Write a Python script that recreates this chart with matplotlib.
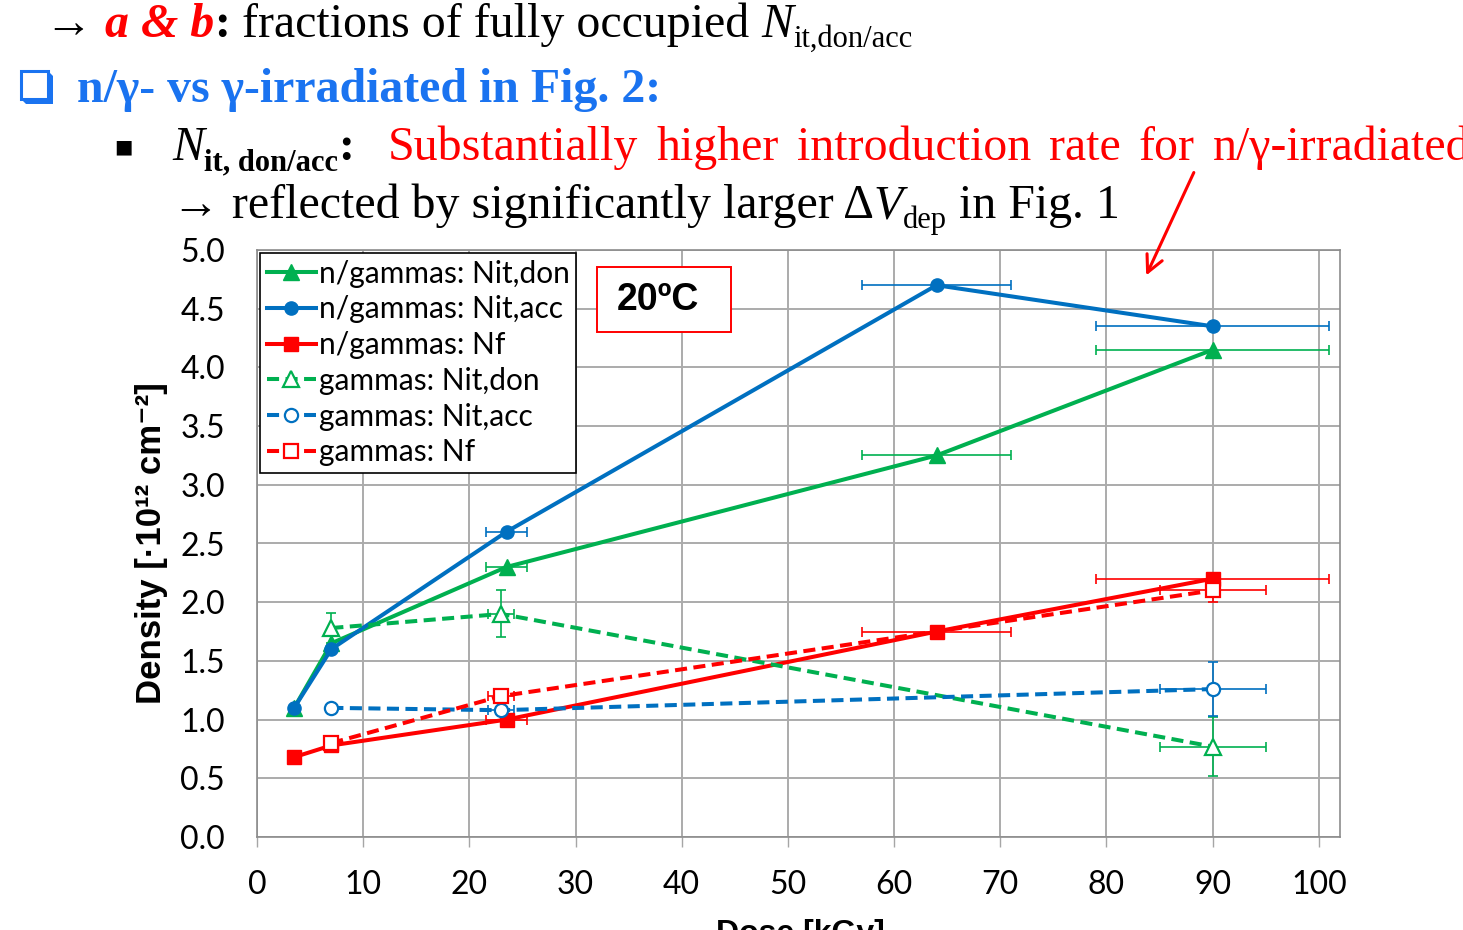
import matplotlib
matplotlib.use("Agg")
import matplotlib.pyplot as plt
from matplotlib.patches import Rectangle, Polygon, FancyArrowPatch
from matplotlib.transforms import IdentityTransform

# ---------------- data ----------------
dose_ng = [3.5, 7, 23.5, 64, 90]          # n/gammas dose [kGy]
dose_ng_err = [0, 0, 1.9, 7, 11]
nit_don_ng = [1.10, 1.65, 2.30, 3.25, 4.15]
nit_acc_ng = [1.10, 1.60, 2.60, 4.70, 4.35]
nf_ng = [0.68, 0.78, 1.00, 1.75, 2.20]

dose_g = [7, 23, 90]                        # gammas dose [kGy]
nit_don_g = [1.78, 1.90, 0.77]
nit_don_g_xerr = [0, 1.2, 5]
nit_don_g_yerr = [0.13, 0.20, 0.25]
nit_acc_g = [1.10, 1.08, 1.26]
nit_acc_g_xerr = [0, 1.2, 5]
nit_acc_g_yerr = [0, 0, 0.23]
nf_g = [0.80, 1.20, 2.10]
nf_g_xerr = [0, 1.2, 5]
nf_g_yerr = [0, 0, 0.10]

x_ticks = list(range(0, 101, 10))
y_ticks = [0.0, 0.5, 1.0, 1.5, 2.0, 2.5, 3.0, 3.5, 4.0, 4.5, 5.0]

GREEN = "#00B050"
BLUE = "#0070C0"
RED = "#FF0000"
SLIDE_BLUE = "#1A73F0"

W, H = 1463, 930
fig = plt.figure(figsize=(W / 100, H / 100), dpi=100)
fig.patch.set_facecolor("white")
PIX = IdentityTransform()

# ---------------- chart ----------------
left, right, top, bottom = 257, 1340, 250, 837
ax = fig.add_axes([left / W, (H - bottom) / H, (right - left) / W, (bottom - top) / H])
ax.set_xlim(0, 102)
ax.set_ylim(0, 5)
ax.set_xticks(x_ticks)
ax.set_yticks(y_ticks)
ax.set_xticklabels([str(v) for v in x_ticks])
ax.set_yticklabels([f"{v:.1f}" for v in y_ticks])
for lab in ax.get_xticklabels() + ax.get_yticklabels():
    lab.set_fontfamily(["Lato", "DejaVu Sans"])
    lab.set_fontsize(23)
ax.tick_params(axis="x", length=7, width=1, color="#A6A6A6", pad=17)
ax.tick_params(axis="y", length=0, pad=23)
ax.grid(True, color="#ABABAB", linewidth=1.4)
ax.set_axisbelow(True)
for s in ax.spines.values():
    s.set_color("#8C8C8C")
    s.set_linewidth(1.2)

lw = 2.9
dash = (0, (3, 1.6))
ebkw = dict(fmt="none", elinewidth=1.2, capsize=3.5, capthick=1.2, zorder=2)

# error bars
ax.errorbar(dose_ng, nit_don_ng, xerr=dose_ng_err, ecolor=GREEN, **ebkw)
ax.errorbar(dose_ng, nit_acc_ng, xerr=dose_ng_err, ecolor=BLUE, **ebkw)
ax.errorbar(dose_ng, nf_ng, xerr=dose_ng_err, ecolor=RED, **ebkw)
ax.errorbar(dose_g, nit_don_g, xerr=nit_don_g_xerr, yerr=nit_don_g_yerr, ecolor=GREEN, **ebkw)
ax.errorbar(dose_g, nit_acc_g, xerr=nit_acc_g_xerr, yerr=nit_acc_g_yerr, ecolor=BLUE, **ebkw)
ax.errorbar(dose_g, nf_g, xerr=nf_g_xerr, yerr=nf_g_yerr, ecolor=RED, **ebkw)

h1, = ax.plot(dose_ng, nit_don_ng, "-", color=GREEN, lw=lw, marker="^", ms=11,
              label="n/gammas: Nit,don", zorder=3)
h2, = ax.plot(dose_ng, nit_acc_ng, "-", color=BLUE, lw=lw, marker="o", ms=9.5,
              label="n/gammas: Nit,acc", zorder=3)
h3, = ax.plot(dose_ng, nf_ng, "-", color=RED, lw=lw, marker="s", ms=9.5,
              label="n/gammas: Nf", zorder=3)
h4, = ax.plot(dose_g, nit_don_g, linestyle=dash, color=GREEN, lw=lw, marker="^", ms=11,
              mfc="white", mew=1.6, label="gammas: Nit,don", zorder=3)
h5, = ax.plot(dose_g, nit_acc_g, linestyle=dash, color=BLUE, lw=lw, marker="o", ms=9.5,
              mfc="white", mew=1.6, label="gammas: Nit,acc", zorder=3)
h6, = ax.plot(dose_g, nf_g, linestyle=dash, color=RED, lw=lw, marker="s", ms=9.5,
              mfc="white", mew=1.6, label="gammas: Nf", zorder=3)

leg = ax.legend(handles=[h1, h2, h3, h4, h5, h6], loc="upper left",
                bbox_to_anchor=(260 / W, 1 - 253 / H), bbox_transform=fig.transFigure,
                borderaxespad=0, frameon=True, fancybox=False, framealpha=1,
                edgecolor="black", handlelength=1.65, handletextpad=0.1,
                labelspacing=0.26, borderpad=0.22,
                prop=dict(family=["Lato", "DejaVu Sans"], size=21.5))
leg.get_frame().set_linewidth(1.2)

# temperature box
fig.patches.append(Rectangle((597, H - 332), 134, 65, transform=PIX,
                             facecolor="white", edgecolor=RED, linewidth=1.4, zorder=5))
fig.text(658, H - 300, "20ºC", transform=PIX, ha="center", va="center",
         fontsize=27, fontweight="bold", family="Liberation Sans", zorder=6)

ax.set_ylabel("Density [·10¹² cm⁻²]", fontsize=25, fontweight="bold",
              family=["Liberation Sans", "DejaVu Sans"])
ax.yaxis.set_label_coords((168 - left) / (right - left), 0.5)
fig.text(800, H - 942, "Dose [kGy]", transform=PIX, ha="center",
         va="baseline", fontsize=23, fontweight="bold", family="Liberation Sans")

# ---------------- slide text ----------------
renderer = fig.canvas.get_renderer()
SERIF = "Liberation Serif"


def run_text(x, y, parts, gap=0):
    """Place text runs one after another starting at pixel (x, y), y from top."""
    for txt, props in parts:
        props = dict(props)
        dy = props.pop("dy", 0)
        t = fig.text(x, H - y - dy, txt, transform=PIX, va="baseline",
                     ha="left", **props)
        bb = t.get_window_extent(renderer)
        x = bb.x1 + gap
    return x


big = 34.5
sub = 22
run_text(45, 37, [
    ("→ ", dict(family=SERIF, size=big)),
    ("a & b", dict(family=SERIF, size=big, color=RED, style="italic", weight="bold")),
    (":", dict(family=SERIF, size=big, weight="bold")),
    (" fractions of fully occupied ", dict(family=SERIF, size=big)),
    ("N", dict(family=SERIF, size=big, style="italic")),
    ("it,don/acc", dict(family=SERIF, size=sub, dy=10)),
])

# hollow square bullet with drop shadow
fig.patches.append(Polygon([(26, H - 104), (53, H - 104), (53, H - 76), (48, H - 71),
                            (48, H - 99), (21, H - 99)], closed=True, transform=PIX,
                           facecolor=SLIDE_BLUE, edgecolor="none"))
fig.patches.append(Rectangle((21, H - 99), 27, 28, transform=PIX, facecolor="white",
                             edgecolor=SLIDE_BLUE, linewidth=2.2))
run_text(77, 102, [
    ("n/γ- vs γ-irradiated in Fig. 2:", dict(family=SERIF, size=big, weight="bold",
                                            color=SLIDE_BLUE)),
])

fig.text(114, H - 152, "■", transform=PIX, va="baseline", ha="left",
         family="DejaVu Sans", fontsize=14, color="black")
run_text(172, 160, [
    ("N", dict(family=SERIF, size=big, style="italic")),
    ("it, don/acc", dict(family=SERIF, size=sub, weight="bold", dy=10)),
    (":", dict(family=SERIF, size=big, weight="bold")),
])
# justified sentence: words laid out with a widened, even gap
red_words = ["Substantially", "higher", "introduction", "rate", "for", "n/γ-irradiated"]
run_text(388, 160, [(wd, dict(family=SERIF, size=big, color=RED)) for wd in red_words],
         gap=18)

run_text(172, 218, [
    ("→ reflected by significantly larger Δ", dict(family=SERIF, size=big)),
    ("V", dict(family=SERIF, size=big, style="italic")),
    ("dep", dict(family=SERIF, size=sub, dy=10)),
    (" in Fig. 1", dict(family=SERIF, size=big)),
])

# pointer arrow
fig.add_artist(FancyArrowPatch(
    (1195, H - 170), (1145, H - 278), transform=PIX,
    arrowstyle="->,head_length=12,head_width=6", color=RED, lw=2.2, zorder=10))

fig.savefig("out.png", dpi=100)
